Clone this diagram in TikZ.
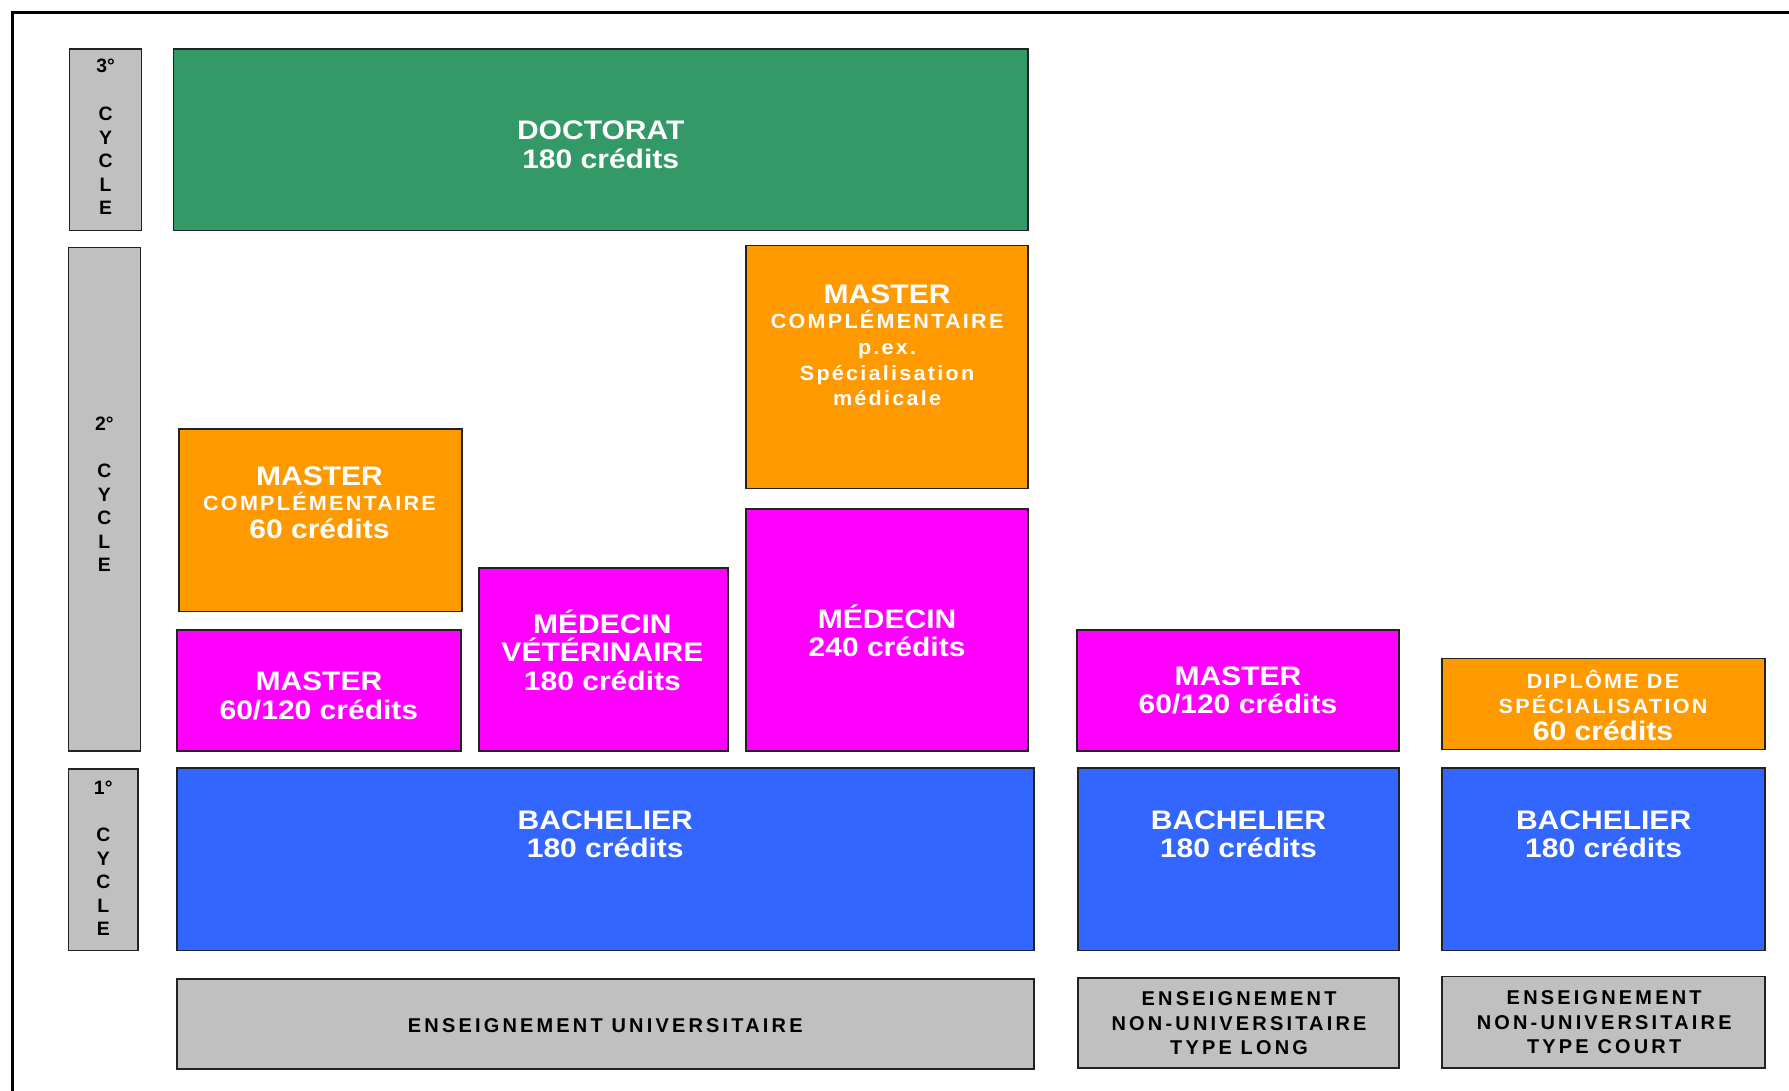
\documentclass[tikz,border=0pt]{standalone}
\usepackage{fontspec}
\usetikzlibrary{fit}
\setmainfont{Liberation Sans}
\newfontface\bigbf{Liberation Sans Bold}[FakeStretch=1.12]
\newfontface\smbf{Liberation Sans Bold}[LetterSpace=11,FakeStretch=1.05]
\newfontface\grbf{Liberation Sans Bold}[LetterSpace=16]
\newfontface\cybf{Liberation Sans Bold}
\newcommand{\smlf}{\smbf\fontsize{18}{22.5}\selectfont}
\definecolor{cgreen}{HTML}{339966}
\definecolor{corange}{HTML}{FF9900}
\definecolor{cmag}{HTML}{FF00FF}
\definecolor{cblue}{HTML}{3366FF}
\definecolor{cgray}{HTML}{C0C0C0}
\definecolor{cline}{HTML}{222222}
\tikzset{
  cbox/.style={draw=cline, line width=1.4pt, rectangle, inner sep=0pt, outer sep=0pt},
  wtxt/.style={text=white, align=center, inner sep=0pt, font=\bigbf\fontsize{23.5}{25}\selectfont},
  gtxt/.style={text=black, align=center, inner sep=0pt, font=\grbf\fontsize{17.5}{21.5}\selectfont},
  ctxt/.style={text=black, align=center, inner sep=0pt, font=\cybf\fontsize{17}{20.5}\selectfont},
}
\begin{document}
\begin{tikzpicture}[x=1pt, y=-1pt]
\useasboundingbox (0,0) rectangle (1568,956);
\fill[white] (0,0) rectangle (1568,956);
\draw[line width=3pt] (11,956) -- (11,11) -- (1568,11);

% cycle boxes
\node[cbox, fill=cgray, fit={(61,43)(124,202)}] (cyc3) {};
\node[cbox, fill=cgray, fit={(60,217)(123,658)}] (cyc2) {};
\node[cbox, fill=cgray, fit={(60,674)(121,833)}] (cyc1) {};
\node[ctxt] (cyc3t) at (92.5,120) {3°\\[21.5pt]C\\Y\\C\\L\\E};
\node[ctxt] (cyc2t) at (91.5,433) {2°\\[21.5pt]C\\Y\\C\\L\\E};
\node[ctxt] (cyc1t) at (90.5,752) {1°\\[21.5pt]C\\Y\\C\\L\\E};

% boxes
\node[cbox, fill=cgreen, fit={(152,43)(901,202)}] (doct) {};
\node[cbox, fill=corange, fit={(654,215)(901,428)}] (mctr) {};
\node[cbox, fill=corange, fit={(157,376)(405,536)}] (mc60) {};
\node[cbox, fill=cmag, fit={(155,552)(404,658)}] (mast1) {};
\node[cbox, fill=cmag, fit={(420,498)(638,658)}] (medvet) {};
\node[cbox, fill=cmag, fit={(654,446)(901,658)}] (med) {};
\node[cbox, fill=cmag, fit={(944,552)(1226,658)}] (mast2) {};
\node[cbox, fill=corange, fit={(1264,577)(1547,657)}] (dipl) {};
\node[cbox, fill=cblue, fit={(155,673)(906,833)}] (bach1) {};
\node[cbox, fill=cblue, fit={(945,673)(1226,833)}] (bach2) {};
\node[cbox, fill=cblue, fit={(1264,673)(1547,833)}] (bach3) {};
\node[cbox, fill=cgray, fit={(155,858)(906,937)}] (ens1) {};
\node[cbox, fill=cgray, fit={(945,857)(1226,936)}] (ens2) {};
\node[cbox, fill=cgray, fit={(1264,856)(1547,936)}] (ens3) {};

% texts
\node[wtxt] (doctt) at (526.5,127) {DOCTORAT\\180 crédits};
\node[wtxt] (mctrt) at (777.5,302.5) {MASTER\\[-2.5pt]{\smlf COMPLÉMENTAIRE}\\[-2.5pt]{\smlf p.ex.}\\[-2.5pt]{\smlf Spécialisation}\\[-2.5pt]{\smlf médicale}};
\node[wtxt] (mc60t) at (280,440.5) {MASTER\\[-3pt]{\smlf COMPLÉMENTAIRE}\\[-1pt]60 crédits};
\node[wtxt] (mast1t) at (279.5,610) {MASTER\\60/120 crédits};
\node[wtxt] (medvett) at (528,569.5) {MÉDECIN\\VÉTÉRINAIRE\\180 crédits};
\node[wtxt] (medt) at (777.5,553) {MÉDECIN\\240 crédits};
\node[wtxt] (mast2t) at (1085,605) {MASTER\\60/120 crédits};
\node[wtxt] (diplt) at (1405,618.3) {{\smlf DIPLÔME DE}\\[-2.5pt]{\smlf SPÉCIALISATION}\\[-1.5pt]60 crédits};
\node[wtxt] (bach1t) at (530.5,731.4) {BACHELIER\\180 crédits};
\node[wtxt] (bach2t) at (1085.5,731.4) {BACHELIER\\180 crédits};
\node[wtxt] (bach3t) at (1405.5,731.4) {BACHELIER\\180 crédits};
\node[gtxt] (ens1t) at (530.5,899) {ENSEIGNEMENT UNIVERSITAIRE};
\node[gtxt] (ens2t) at (1086,897) {ENSEIGNEMENT\\NON-UNIVERSITAIRE\\TYPE LONG};
\node[gtxt] (ens3t) at (1406,896) {ENSEIGNEMENT\\NON-UNIVERSITAIRE\\TYPE COURT};
\end{tikzpicture}
\end{document}
